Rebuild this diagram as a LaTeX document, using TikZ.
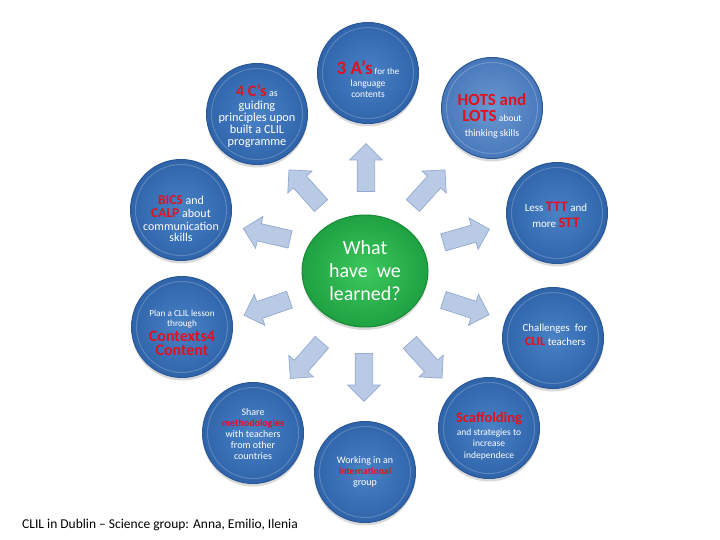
\documentclass[tikz,border=0pt]{standalone}
\usepackage{fontspec}
\setmainfont{Carlito}
\usetikzlibrary{shapes.arrows,shapes.geometric,shadows}
\definecolor{bubin}{HTML}{4A82C6}
\definecolor{bubout}{HTML}{2F64AA}
\definecolor{bubrim}{HTML}{2A5896}
\definecolor{hotsin}{HTML}{6A98D2}
\definecolor{hotsout}{HTML}{4878BA}
\definecolor{grin}{HTML}{3CC85C}
\definecolor{grout}{HTML}{1FA142}
\definecolor{grrim}{HTML}{178A35}
\definecolor{arrfill}{HTML}{B9CAE4}
\definecolor{arrborder}{HTML}{92A9D1}
\definecolor{clilred}{HTML}{E3101E}
\newcommand{\redb}[1]{\textcolor{clilred}{\textbf{#1}}}
\newcommand{\fs}[1]{\fontsize{#1}{#1}\selectfont}
\begin{document}
\begin{tikzpicture}[x=1pt,y=-1pt,
  bub/.style={circle, minimum size=101pt, inner sep=0pt, draw=bubrim, line width=1pt,
    inner color=bubin, outer color=bubout,
    drop shadow={opacity=0.3, shadow xshift=0pt, shadow yshift=-3pt},
    path picture={\draw[white,opacity=0.2,line width=1pt] (path picture bounding box.center) circle (45.5pt);}},
  txt/.style={text=white, align=center, inner sep=0pt},
  centre/.style={ellipse, minimum width=126pt, minimum height=112pt, inner sep=0pt, draw=grrim, line width=1pt,
    inner color=grin, outer color=grout, text=white, align=center,
    font=\fontsize{20}{23}\selectfont,
    drop shadow={opacity=0.3, shadow xshift=0pt, shadow yshift=-3pt}},
  arr/.style={single arrow, draw=arrborder, fill=arrfill, line width=0.7pt,
    minimum height=48pt, inner xsep=0pt, inner ysep=8.5pt,
    single arrow head extend=7.5pt, single arrow head indent=0pt}]
\useasboundingbox (0,0) rectangle (720,540);
% centre
\node[centre] (ctr) at (365,271) {What\\have\ \ we\\learned?};
% outer bubbles
\node[bub] (c1) at (257,114) {};
\node[bub] (c2) at (368,73) {};
\node[bub, inner color=hotsin, outer color=hotsout] (c3) at (492,108) {};
\node[bub] (c4) at (557,213) {};
\node[bub] (c5) at (553,338) {};
\node[bub] (c6) at (489,428) {};
\node[bub] (c7) at (365,472) {};
\node[bub] (c8) at (253,433) {};
\node[bub] (c9) at (182,327) {};
\node[bub] (c10) at (181,210) {};
% texts
\node[txt, font=\fontsize{12.3}{12}\selectfont] (t1) at (257,116) {{\fs{16}\redb{4 C’s}} {\fs{10}as}\\[1pt]guiding\\principles upon\\built a CLIL\\programme};
\node[txt, font=\fontsize{9.5}{11}\selectfont] (t2) at (368,79) {{\fs{19}\redb{3 A’s}} {\fs{9}for the}\\[1pt]language\\contents};
\node[txt, font=\fontsize{10}{15}\selectfont] (t3) at (492,116) {{\fs{17}\redb{HOTS and}}\\[1pt]{\fs{17}\redb{LOTS}} {\fs{9.5}about}\\thinking skills};
\node[txt, font=\fontsize{11}{16}\selectfont] (t4) at (556,215) {Less {\fs{14.5}\redb{TTT}} and\\more {\fs{14.5}\redb{STT}}};
\node[txt, font=\fontsize{10.8}{14}\selectfont] (t5) at (555,335) {Challenges\ \ for\\{\fs{12.5}\redb{CLIL}} teachers};
\node[txt, font=\fontsize{9.5}{11.5}\selectfont] (t6) at (489,436) {{\fs{14.5}\redb{Scaffolding}}\\[1pt]and strategies to\\increase\\independece};
\node[txt, font=\fontsize{10}{11.3}\selectfont] (t7) at (365,472) {Working in an\\{\fs{9.7}\redb{international}}\\group};
\node[txt, font=\fontsize{10}{11.2}\selectfont] (t8) at (253,434) {Share\\\redb{methodologies}\\with teachers\\from other\\countries};
\node[txt, font=\fontsize{9.2}{9.8}\selectfont] (t9) at (182,333) {Plan a CLIL lesson\\through\\[2pt]{\fs{16}\redb{Contexts4}}\\[3pt]{\fs{16}\redb{Content}}};
\node[txt, font=\fontsize{12}{11.5}\selectfont] (t10) at (181,219) {{\fs{13.5}\redb{BICS}} and\\[1.5pt]{\fs{13.5}\redb{CALP}} about\\[1pt]communication\\skills};
% arrows
\node[arr, rotate=90]  (a1)  at (366,172) {};
\node[arr, rotate=132] (a2)  at (308,191) {};
\node[arr, rotate=48]  (a3)  at (426,191) {};
\node[arr, rotate=167] (a4)  at (271,235) {};
\node[arr, rotate=16]  (a5)  at (462,237) {};
\node[arr, rotate=199] (a6)  at (271,306) {};
\node[arr, rotate=-18] (a7)  at (462,306) {};
\node[arr, rotate=229] (a8)  at (309,357) {};
\node[arr, rotate=270] (a9)  at (364,373) {};
\node[arr, rotate=-48] (a10) at (423,357) {};
% footer
\node[anchor=west, font=\fontsize{13.5}{15}\selectfont, inner sep=0pt] (foot) at (22,525) {CLIL in Dublin – Science group: Anna, Emilio, Ilenia};
\end{tikzpicture}
\end{document}
